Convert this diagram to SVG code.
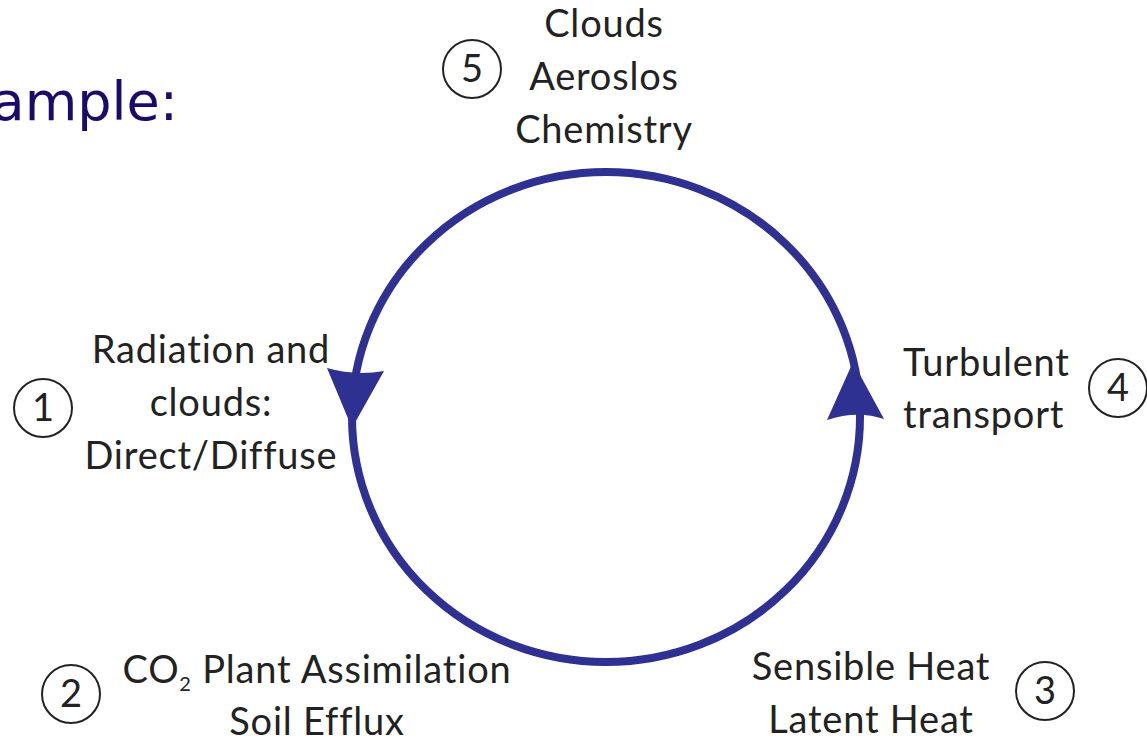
<svg xmlns="http://www.w3.org/2000/svg" width="1147" height="741" viewBox="0 0 1147 741">
<style>
.t{font-family:Lato,"Liberation Sans",sans-serif;font-size:38px;letter-spacing:0.8px;fill:#222;}
.c{text-anchor:middle;}
.n{font-family:Lato,"Liberation Sans",sans-serif;font-size:38px;fill:#222;text-anchor:middle;}
.num{fill:none;stroke:#222;stroke-width:2;}
.arc{fill:none;stroke:#2e3192;stroke-width:8;}
.head{fill:#2e3192;}
</style>
<rect width="1147" height="741" fill="#fff"/>
<text id="title" x="178" y="120" font-family="'DejaVu Sans',sans-serif" font-size="54" fill="#1a0a6b" text-anchor="end">ample:</text>
<g id="connectors">
<ellipse class="arc" cx="606" cy="417" rx="254" ry="245"/>
<path class="head" d="M327,368 Q355,376 384,371 L352,428 Z"/>
<path class="head" d="M853,362 L884,419 Q857,410 827,420 Z"/>
</g>
<g id="node5">
<circle class="num" cx="472" cy="69" r="29"/>
<text class="n" x="472" y="82">5</text>
<text class="t c" x="604" y="37">Clouds</text>
<text class="t c" x="604" y="90">Aeroslos</text>
<text class="t c" x="604" y="143">Chemistry</text>
</g>
<g id="node1">
<circle class="num" cx="43" cy="408" r="29"/>
<text class="n" x="43" y="421">1</text>
<text class="t c" x="211" y="363">Radiation and</text>
<text class="t c" x="211" y="416">clouds:</text>
<text class="t c" x="211" y="469">Direct/Diffuse</text>
</g>
<g id="node4">
<circle class="num" cx="1118" cy="388" r="29"/>
<text class="n" x="1118" y="401">4</text>
<text class="t" x="903" y="376">Turbulent</text>
<text class="t" x="903" y="428">transport</text>
</g>
<g id="node3">
<circle class="num" cx="1045" cy="691" r="29"/>
<text class="n" x="1045" y="704">3</text>
<text class="t c" x="871" y="680">Sensible Heat</text>
<text class="t c" x="871" y="733">Latent Heat</text>
</g>
<g id="node2">
<circle class="num" cx="71" cy="694" r="29"/>
<text class="n" x="71" y="707">2</text>
<text class="t c" x="317" y="683">CO<tspan font-size="20" dy="8">2</tspan><tspan dy="-8"> Plant Assimilation</tspan></text>
<text class="t c" x="317" y="735">Soil Efflux</text>
</g>
</svg>
